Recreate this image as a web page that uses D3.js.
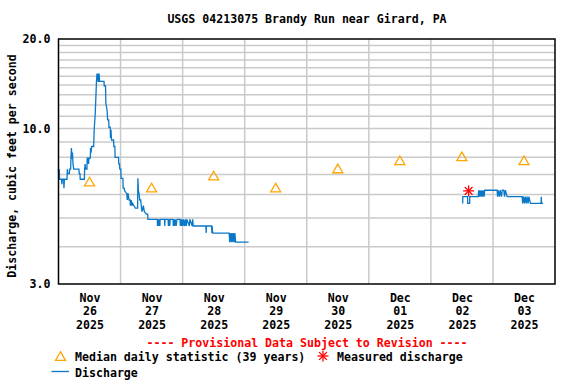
<!DOCTYPE html>
<html>
<head>
<meta charset="utf-8">
<script src="https://cdn.jsdelivr.net/npm/d3@7"></script>
<style>
  body { margin: 0; background: #fff; }
  svg text { font-family: "DejaVu Sans Mono", "Liberation Mono", monospace; font-weight: bold; font-size: 11.6px; }
</style>
</head>
<body>
<div id="chart"></div>
<script>
// hours counted from Nov 26 2025 00:00
var dayMonths = ["Nov", "Nov", "Nov", "Nov", "Nov", "Dec", "Dec", "Dec"];
var dayNumbers = ["26", "27", "28", "29", "30", "01", "02", "03"];
var dayYears = ["2025", "2025", "2025", "2025", "2025", "2025", "2025", "2025"];

var medianCfs = [6.63, 6.33, 6.95, 6.33, 7.34, 7.82, 8.06, 7.82];
var measured = [[158.6, 6.17]];

var flowPart1 = [
  [0.0, 7.3], [0.1, 6.75], [0.3, 7.3], [0.4, 6.75], [1.2, 6.75], [1.3, 6.5], [1.5, 6.75],
  [2.0, 6.75], [2.1, 6.3], [2.3, 6.75], [3.3, 6.75], [3.4, 7.3], [3.6, 7.05], [4.2, 7.05],
  [4.3, 7.3], [4.7, 7.3], [4.8, 7.9], [5.0, 8.6], [5.2, 7.9], [5.4, 8.3], [5.6, 7.6],
  [5.9, 7.3], [7.9, 7.3], [8.0, 7.05], [8.3, 7.05], [8.4, 6.75], [10.0, 6.75], [10.1, 7.3],
  [10.3, 7.6], [10.5, 7.3], [11.0, 7.3], [11.1, 7.95], [11.5, 7.95], [11.6, 7.6], [11.8, 7.95],
  [12.3, 7.95], [12.4, 8.6], [12.6, 8.3], [12.8, 8.7], [13.6, 8.7], [13.8, 9.9], [14.2, 11.2],
  [14.7, 14.5], [14.9, 15.3], [15.0, 14.5], [15.2, 15.3], [15.3, 14.4], [15.6, 14.4],
  [15.7, 15.3], [15.9, 14.4], [17.6, 14.4], [17.7, 13.9], [18.2, 13.9], [18.3, 12.2],
  [18.8, 11.5], [19.0, 10.7], [19.4, 10.7], [19.5, 10.1], [20.0, 10.1], [20.1, 9.3],
  [20.3, 9.9], [20.5, 9.15], [21.3, 9.15], [21.4, 8.7], [21.8, 8.7], [21.9, 8.0], [23.2, 8.0],
  [23.3, 7.6], [23.6, 7.6], [23.7, 7.3], [24.1, 7.3], [24.2, 6.8], [24.9, 6.8], [25.0, 6.3],
  [25.4, 6.3], [25.5, 6.2], [26.0, 6.1], [26.4, 6.05], [26.6, 5.75], [26.9, 6.05], [27.3, 5.75],
  [27.7, 5.75], [27.8, 5.5], [28.1, 5.75], [28.4, 5.5], [28.7, 5.6], [29.2, 5.5], [29.7, 5.4],
  [30.6, 5.4], [30.7, 6.8], [30.9, 6.2], [31.2, 6.0], [31.4, 5.75], [31.8, 5.75], [32.0, 5.5],
  [32.3, 5.25], [32.8, 5.5], [33.2, 5.25], [34.0, 5.15], [34.5, 5.15], [34.6, 4.95],
  [38.2, 4.95], [38.3, 4.7], [38.5, 4.95], [38.8, 4.7], [39.0, 4.95], [39.2, 4.7], [39.3, 4.95],
  [41.0, 4.95], [41.1, 4.7], [41.2, 4.95], [42.4, 4.95], [42.5, 4.7], [42.7, 4.95], [43.0, 4.7],
  [43.2, 4.95], [44.3, 4.95], [44.4, 4.7], [44.6, 4.95], [44.9, 4.7], [45.1, 4.95], [45.5, 4.7],
  [45.8, 4.95], [47.0, 4.95], [47.1, 4.7], [47.3, 4.95], [47.6, 4.7], [47.7, 4.95], [48.1, 4.7],
  [48.3, 4.95], [48.8, 4.7], [49.0, 4.95], [49.4, 4.7], [49.6, 4.95], [50.6, 4.7], [50.8, 4.95],
  [51.7, 4.7], [51.9, 4.95], [52.1, 4.7], [57.0, 4.7], [57.1, 4.45], [57.2, 4.7], [59.2, 4.7],
  [59.3, 4.45], [59.4, 4.7], [59.6, 4.45], [66.0, 4.45], [66.2, 4.15], [66.4, 4.45],
  [66.8, 4.15], [67.0, 4.45], [67.4, 4.15], [67.6, 4.45], [68.0, 4.15], [68.2, 4.45],
  [68.5, 4.15], [73.5, 4.15]
];

var flowPart2 = [
  [156.3, 5.6], [156.35, 5.9], [158.2, 5.9], [158.25, 5.6], [159.0, 5.6], [159.05, 5.9],
  [162.3, 5.9], [162.5, 6.2], [162.8, 5.9], [163.0, 6.2], [163.4, 5.9], [163.6, 6.2],
  [164.0, 5.9], [164.2, 6.2], [164.6, 5.9], [164.8, 6.2], [169.6, 6.2], [169.8, 5.9],
  [170.1, 6.2], [170.5, 5.9], [170.8, 6.2], [171.3, 5.9], [171.6, 6.2], [172.2, 6.2],
  [172.5, 5.9], [172.8, 6.2], [173.5, 5.9], [179.3, 5.9], [179.5, 5.6], [179.8, 5.9],
  [180.2, 5.6], [180.5, 5.9], [180.9, 5.6], [181.2, 5.9], [181.6, 5.6], [181.9, 5.9],
  [182.5, 5.6], [186.6, 5.6], [186.7, 5.9], [186.8, 5.6], [187.4, 5.6]
];

var gridCfs = [4, 5, 6, 7, 8, 9, 10, 11, 12, 13, 14, 15, 16, 17, 18, 19];
var labelCfs = [3, 10, 20];

(function(){
  var width = 576, height = 384;
  var plotLeft = 58.5, plotRight = 555, plotTop = 39, plotBottom = 284;

  var svg = d3.select("#chart").append("svg")
    .attr("width", width)
    .attr("height", height);

  var x = d3.scaleLinear().domain([0, 192]).range([plotLeft, plotRight]);
  var y = d3.scaleLog().domain([3, 20]).range([plotBottom, plotTop]);

  // grid
  svg.append("g")
    .selectAll("line")
    .data(gridCfs)
    .enter().append("line")
      .attr("x1", plotLeft).attr("x2", plotRight)
      .attr("y1", function(d){ return y(d) })
      .attr("y2", function(d){ return y(d) })
      .attr("stroke", "#cacaca")
      .attr("stroke-width", 1.5);

  svg.append("g")
    .selectAll("line")
    .data(d3.range(1, 8))
    .enter().append("line")
      .attr("x1", function(d){ return x(d * 24) })
      .attr("x2", function(d){ return x(d * 24) })
      .attr("y1", plotTop).attr("y2", plotBottom)
      .attr("stroke", "#cacaca")
      .attr("stroke-width", 1.5);

  // discharge line
  var line = d3.line()
    .x(function(d){ return x(d[0]) })
    .y(function(d){ return y(d[1]) });

  [flowPart1, flowPart2].forEach(function(part) {
    svg.append("path")
      .datum(part)
      .attr("d", line)
      .attr("fill", "none")
      .attr("stroke", "#0a78c8")
      .attr("stroke-width", 1.3);
  });

  // median triangles
  function triangle(cx, cy) {
    return "M" + cx + "," + (cy - 4.3) + "L" + (cx + 5) + "," + (cy + 4.3) + "L" + (cx - 5) + "," + (cy + 4.3) + "Z";
  }

  svg.append("g")
    .selectAll("path")
    .data(medianCfs)
    .enter().append("path")
      .attr("d", function(d, i){ return triangle(x(i * 24 + 12), y(d)) })
      .attr("fill", "none")
      .attr("stroke", "#ffa500")
      .attr("stroke-width", 1.3);

  // measured discharge asterisk
  function asterisk(g, cx, cy) {
    d3.range(8).forEach(function(k) {
      var a = k * Math.PI / 4;
      g.append("line")
        .attr("x1", cx).attr("y1", cy)
        .attr("x2", cx + 5.5 * Math.cos(a)).attr("y2", cy + 5.5 * Math.sin(a))
        .attr("stroke", "#ff0000")
        .attr("stroke-width", 1.3);
    });
  }

  measured.forEach(function(d) {
    asterisk(svg.append("g"), x(d[0]), y(d[1]));
  });

  // frame
  svg.append("rect")
    .attr("x", plotLeft).attr("y", plotTop)
    .attr("width", plotRight - plotLeft).attr("height", plotBottom - plotTop)
    .attr("fill", "none")
    .attr("stroke", "#000")
    .attr("stroke-width", 1.5);

  // y axis labels
  var yAxis = d3.axisLeft(y)
    .tickValues(labelCfs)
    .tickSize(0)
    .tickPadding(8)
    .tickFormat(d3.format(".1f"));

  var yg = svg.append("g")
    .attr("transform", "translate(" + plotLeft + ",0)")
    .call(yAxis);
  yg.select(".domain").remove();
  yg.attr("font-family", null).attr("font-size", null);
  yg.selectAll("text").attr("fill", "#000");

  // x axis labels, three rows
  var xAxis = d3.axisBottom(x)
    .tickValues(d3.range(8).map(function(i){ return i * 24 + 12 }))
    .tickSize(0)
    .tickFormat(function(){ return "" });

  var xg = svg.append("g")
    .attr("transform", "translate(0," + plotBottom + ")")
    .call(xAxis);
  xg.select(".domain").remove();
  xg.attr("font-family", null).attr("font-size", null);
  xg.selectAll(".tick text").each(function(d, i) {
    var t = d3.select(this).attr("y", 0).attr("dy", null).attr("fill", "#000");
    [dayMonths[i], dayNumbers[i], dayYears[i]].forEach(function(s, r) {
      t.append("tspan").attr("x", 0).attr("y", 18 + r * 13.4).text(s);
    });
  });

  // title and y label
  svg.append("text")
    .attr("x", 307).attr("y", 23)
    .attr("text-anchor", "middle")
    .text("USGS 04213075 Brandy Run near Girard, PA");

  svg.append("text")
    .attr("transform", "translate(16,166) rotate(-90)")
    .attr("text-anchor", "middle")
    .text("Discharge, cubic feet per second");

  // legend
  svg.append("text")
    .attr("x", 307).attr("y", 346.5)
    .attr("text-anchor", "middle")
    .attr("fill", "#ff0000")
    .text("---- Provisional Data Subject to Revision ----");

  svg.append("path")
    .attr("d", triangle(60.5, 356))
    .attr("fill", "none")
    .attr("stroke", "#ffa500")
    .attr("stroke-width", 1.3);
  svg.append("text").attr("x", 75).attr("y", 361).text("Median daily statistic (39 years)");

  asterisk(svg.append("g"), 323, 356);
  svg.append("text").attr("x", 337).attr("y", 361).text("Measured discharge");

  svg.append("line")
    .attr("x1", 51.5).attr("x2", 69)
    .attr("y1", 371.5).attr("y2", 371.5)
    .attr("stroke", "#0a78c8")
    .attr("stroke-width", 1.3);
  svg.append("text").attr("x", 75).attr("y", 376.5).text("Discharge");
})();
</script>
</body>
</html>
